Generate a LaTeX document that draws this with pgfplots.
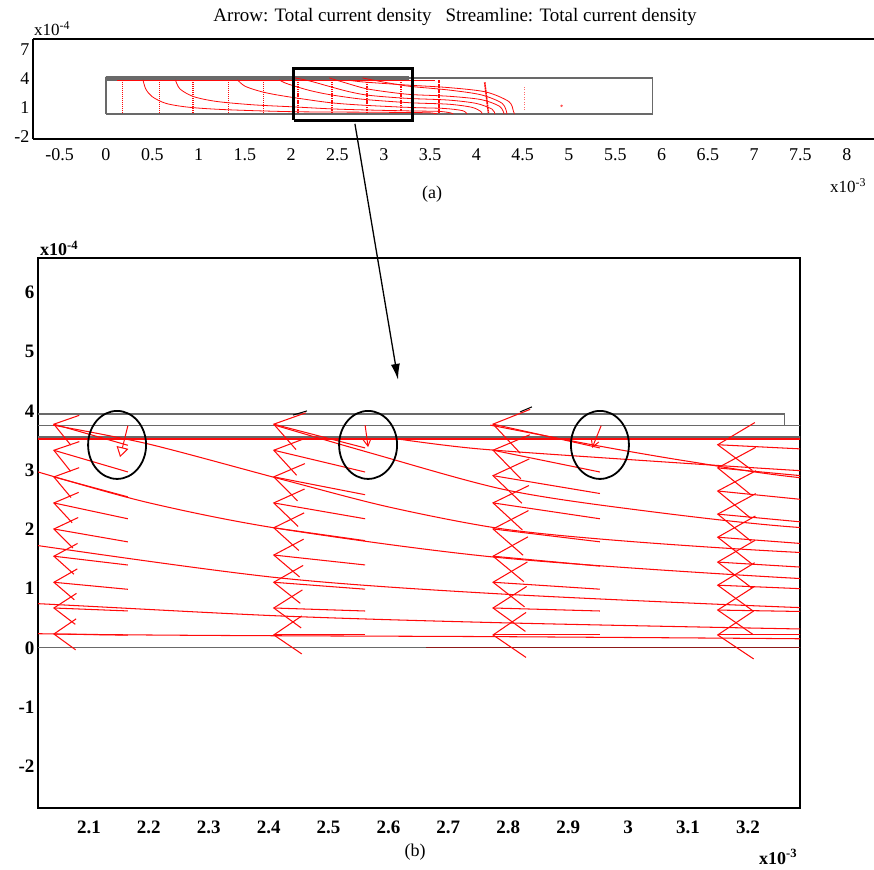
\documentclass[border=0pt]{standalone}
\usepackage{pgfplots}
\pgfplotsset{compat=1.18}
\usepackage{pgfplotstable}
\usetikzlibrary{arrows.meta}
\usepackage{fontspec}
\setmainfont{Liberation Serif}
\definecolor{geo}{RGB}{105,105,105}
\definecolor{cred}{RGB}{255,10,10}
\definecolor{dred}{RGB}{140,25,25}

% streamlines (x in 1e-3, y in 1e-4)
\pgfplotstableread{
x y
0.40 3.55
0.43 2.6
0.5 1.8
0.65 1.1
0.9 0.7
1.3 0.45
2.02 0.24
2.8 0.19
3.29 0.155
3.5 0.12
3.58 0.0
}\slD
\pgfplotstableread{
x y
0.75 3.55
0.8 2.6
0.95 1.8
1.2 1.3
1.6 0.95
2.02 0.745
2.42 0.54
2.79 0.425
3.29 0.32
3.6 0.27
3.72 0.12
3.75 0.0
}\slC
\pgfplotstableread{
x y
1.42 3.55
1.5 2.9
1.65 2.4
1.8 2.07
2.02 1.72
2.42 1.18
2.79 0.91
3.29 0.68
3.65 0.58
3.85 0.35
3.9 0.0
}\slB
\pgfplotstableread{
x y
1.87 3.55
1.93 3.25
2.02 2.955
2.2 2.45
2.42 2.01
2.79 1.52
3.29 1.17
3.7 1.02
3.95 0.7
4.05 0.25
4.06 0.0
}\slA
\pgfplotstableread{
x y
2.04 3.76
2.2 3.44
2.42 2.85
2.6 2.38
2.79 2.01
3.0 1.8
3.29 1.61
3.7 1.45
4.0 1.1
4.17 0.5
4.2 0.0
}\slE
\pgfplotstableread{
x y
2.41 3.76
2.57 3.29
2.79 2.68
3.0 2.35
3.29 2.03
3.7 1.85
4.05 1.5
4.25 0.8
4.3 0.0
}\slF
\pgfplotstableread{
x y
2.62 3.52
2.75 3.36
3.0 3.18
3.29 2.99
3.7 2.75
4.1 2.3
4.35 1.3
4.4 0.3
4.41 0.0
}\slH
\pgfplotstableread{
x y
2.77 3.76
2.95 3.41
3.1 3.15
3.29 2.87
3.7 2.5
4.05 2.0
4.28 1.1
4.33 0.0
}\slG

% arrow columns of panel (b): tail x, tail y, u, v
\pgfplotstableread{
x y u v
2.165 3.42 -0.125 0.36
2.165 2.97 -0.125 0.37
2.165 2.55 -0.125 0.34
2.165 2.18 -0.125 0.27
2.165 1.79 -0.125 0.22
2.165 1.40 -0.125 0.15
2.165 0.99 -0.125 0.12
2.165 0.625 -0.125 0.05
2.165 0.216 -0.125 0.02
}\colA
\pgfplotstableread{
x y u v
2.561 3.375 -0.154 0.405
2.561 2.969 -0.154 0.371
2.561 2.586 -0.154 0.304
2.561 2.18 -0.154 0.27
2.561 1.811 -0.154 0.219
2.561 1.401 -0.154 0.169
2.561 0.992 -0.154 0.118
2.561 0.624 -0.154 0.051
2.561 0.22 -0.154 0.0
}\colB
\pgfplotstableread{
x y u v
2.953 3.375 -0.18 0.405
2.953 2.969 -0.18 0.371
2.953 2.606 -0.18 0.304
2.953 2.18 -0.18 0.27
2.953 1.791 -0.18 0.219
2.953 1.381 -0.18 0.169
2.953 0.992 -0.18 0.118
2.953 0.624 -0.18 0.051
2.953 0.22 -0.18 0.0
}\colC
\pgfplotstableread{
x y u v
3.345 3.33 -0.197 0.10
3.345 2.854 -0.197 0.186
3.345 2.45 -0.197 0.2
3.345 2.074 -0.197 0.186
3.345 1.72 -0.197 0.15
3.345 1.33 -0.197 0.12
3.345 0.976 -0.197 0.084
3.345 0.606 -0.197 0.034
3.345 0.22 -0.197 0.0
}\colD

\begin{document}
\begin{tikzpicture}
\path[use as bounding box] (0,0) rectangle (874pt,869pt);

\node[anchor=base, font=\fontsize{19}{21}\selectfont, inner sep=0pt] at (455pt,847pt)
  {Arrow: Total current density\hspace{14pt}Streamline: Total current density};

% ---------------- panel (a) ----------------
\begin{axis}[
  at={(33pt,730pt)}, anchor=south west, scale only axis,
  width=841pt, height=100pt,
  xmin=-0.788, xmax=8.294, ymin=-2.6, ymax=7.81,
  axis x line*=box, axis y line*=left,
  axis line style={line width=1.4pt, black},
  major tick length=0pt,
  xtick={-0.5,0,0.5,1,1.5,2,2.5,3,3.5,4,4.5,5,5.5,6,6.5,7,7.5,8},
  xticklabels={-0.5,0,0.5,1,1.5,2,2.5,3,3.5,4,4.5,5,5.5,6,6.5,7,7.5,8},
  ytick={-2,1,4,7}, yticklabels={-2,1,4,7},
  ticklabel style={font=\fontsize{18}{20}\selectfont},
  xticklabel style={yshift=-6pt},
  yticklabel style={yshift=-3pt},
]
\addplot[geo, line width=1.3pt] coordinates {(0,0) (5.9,0) (5.9,3.75) (0,3.75) (0,0)};
\addplot[fill=geo, draw=geo, line width=0.4pt] coordinates {(0,3.56) (3.26,3.56) (3.26,3.95) (0,3.95) (0,3.56)};
\addplot[cred, line width=1.2pt] coordinates {(0.12,3.5) (3.55,3.5)};
\addplot[cred, line width=0.8pt, smooth] table {\slD};
\addplot[cred, line width=0.8pt, smooth] table {\slC};
\addplot[cred, line width=0.8pt, smooth] table {\slB};
\addplot[cred, line width=0.8pt, smooth] table {\slA};
\addplot[cred, line width=0.8pt, smooth] table {\slE};
\addplot[cred, line width=0.8pt, smooth] table {\slF};
\addplot[cred, line width=0.8pt, smooth] table {\slH};
\addplot[cred, line width=0.8pt, smooth] table {\slG};
\pgfplotsinvokeforeach{0.18,0.58,0.94,1.32,1.70}{
  \addplot[cred, line width=1.3pt, dash pattern=on 1pt off 1pt] coordinates {(#1,0.1) (#1,3.55)};
}
\pgfplotsinvokeforeach{2.07,2.44,2.82,3.19}{
  \addplot[cred, line width=1.8pt, dash pattern=on 1.5pt off 0.8pt] coordinates {(#1,0.1) (#1,3.55)};
}
\addplot[cred, line width=1.8pt, dash pattern=on 2pt off 0.5pt] coordinates {(3.60,0.1) (3.60,3.55)};
\addplot[cred, line width=1.6pt, dash pattern=on 2pt off 0.5pt] coordinates {(4.09,3.3) (4.13,0.1)};
\addplot[cred!60, line width=1.2pt, dash pattern=on 1pt off 1.5pt] coordinates {(4.52,0.4) (4.52,3.0)};
\addplot[cred!70, only marks, mark=*, mark size=1pt] coordinates {(4.92,0.85)};
\addplot[black, line width=3pt] coordinates {(2.03,-0.625) (3.315,-0.625) (3.315,4.69) (2.03,4.69) (2.03,-0.625)};
\end{axis}

\node[anchor=base west, inner sep=0pt, font=\fontsize{17}{19}\selectfont] at (34pt,833pt) {x10\textsuperscript{-4}};
\node[anchor=base west, inner sep=0pt, font=\fontsize{17}{19}\selectfont] at (830pt,676pt) {x10\textsuperscript{-3}};
\node[font=\fontsize{18}{20}\selectfont, inner sep=0pt] at (432pt,675pt) {(a)};

% ---------------- panel (b) ----------------
\begin{axis}[
  at={(38pt,61pt)}, anchor=south west, scale only axis,
  width=762pt, height=550pt,
  xmin=2.015, xmax=3.287, ymin=-2.70, ymax=6.58,
  clip mode=individual,
  axis line style={line width=1.4pt, black},
  major tick length=0pt,
  xtick={2.1,2.2,2.3,2.4,2.5,2.6,2.7,2.8,2.9,3.0,3.1,3.2},
  xticklabels={2.1,2.2,2.3,2.4,2.5,2.6,2.7,2.8,2.9,3,3.1,3.2},
  ytick={-2,-1,0,1,2,3,4,5,6}, yticklabels={-2,-1,0,1,2,3,4,5,6},
  ticklabel style={font=\fontsize{19}{21}\selectfont\bfseries},
  xticklabel style={yshift=-9pt},
]
% geometry boundaries
\addplot[geo, line width=1.3pt] coordinates {(2.0,3.95) (3.261,3.95) (3.261,3.75)};
\addplot[geo, line width=1.3pt] coordinates {(2.0,3.75) (3.3,3.75)};
\addplot[geo, line width=1.3pt] coordinates {(2.0,3.56) (3.3,3.56)};
\addplot[geo, line width=1.3pt] coordinates {(2.0,0.01) (3.3,0.01)};
\addplot[dred, line width=1.5pt] coordinates {(2.662,0.01) (3.3,0.01)};
\addplot[cred, line width=1.8pt] coordinates {(2.0,3.525) (3.3,3.525)};
% streamlines
\addplot[cred, line width=1.05pt, smooth] table {\slD};
\addplot[cred, line width=1.05pt, smooth] table {\slC};
\addplot[cred, line width=1.05pt, smooth] table {\slB};
\addplot[cred, line width=1.05pt, smooth] table {\slA};
\addplot[cred, line width=1.05pt, smooth] table {\slE};
\addplot[cred, line width=1.05pt, smooth] table {\slF};
\addplot[cred, line width=1.05pt, smooth] table {\slH};
\addplot[cred, line width=1.05pt, smooth] table {\slG};
% arrows
\addplot[cred, line width=1.05pt, quiver={u=\thisrow{u}, v=\thisrow{v}},
  -{Straight Barb[length=22pt,width=31pt]}] table {\colA};
\addplot[cred, line width=1.05pt, quiver={u=\thisrow{u}, v=\thisrow{v}},
  -{Straight Barb[length=28pt,width=38pt]}] table {\colB};
\addplot[cred, line width=1.05pt, quiver={u=\thisrow{u}, v=\thisrow{v}},
  -{Straight Barb[length=33pt,width=45pt]}] table {\colC};
\addplot[cred, line width=1.05pt, quiver={u=\thisrow{u}, v=\thisrow{v}},
  -{Straight Barb[length=36pt,width=48pt]}] table {\colD};
% small downward arrows in the thin layer
\addplot[cred, line width=1pt, quiver={u=\thisrow{u}, v=\thisrow{v}},
  -{Triangle[open,length=10pt,width=12pt]}] table {
x y u v
2.165 3.75 -0.013 -0.53
};
\addplot[cred, line width=1pt, quiver={u=\thisrow{u}, v=\thisrow{v}},
  -{Straight Barb[length=7pt,width=8pt]}] table {
x y u v
2.561 3.76 0.005 -0.37
2.955 3.75 -0.015 -0.375
};
\addplot[black, line width=1pt] coordinates {(2.4406,3.93) (2.464,4.0)};
\addplot[black, line width=1pt] coordinates {(2.8195,3.983) (2.8395,4.068)};
% circles
\draw[line width=1.8pt] (axis cs:2.147,3.426) ellipse [x radius=29pt, y radius=34pt];
\draw[line width=1.8pt] (axis cs:2.566,3.426) ellipse [x radius=29pt, y radius=34pt];
\draw[line width=1.8pt] (axis cs:2.953,3.426) ellipse [x radius=29pt, y radius=34pt];
% connector from (a)
\draw[line width=1.3pt, -{Latex[length=16pt,width=9pt]}] (axis cs:2.544,8.844) -- (axis cs:2.616,4.523);
\end{axis}

\node[anchor=base west, inner sep=0pt, font=\fontsize{18}{20}\selectfont\bfseries] at (40pt,613pt) {x10\textsuperscript{-4}};
\node[anchor=base west, inner sep=0pt, font=\fontsize{18}{20}\selectfont\bfseries] at (759pt,5pt) {x10\textsuperscript{-3}};
\node[font=\fontsize{18}{20}\selectfont, inner sep=0pt] at (415pt,17pt) {(b)};
\end{tikzpicture}
\end{document}
